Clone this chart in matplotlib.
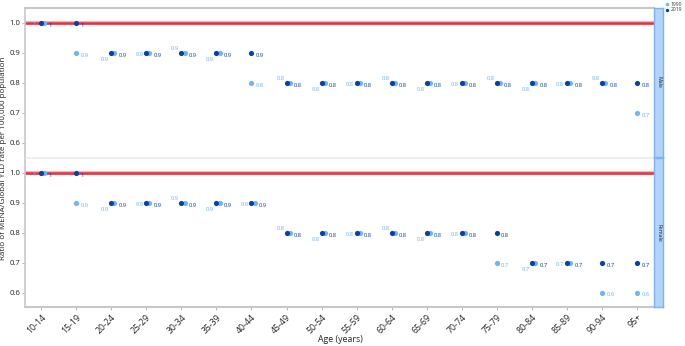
import numpy as np
import matplotlib
matplotlib.use('Agg')
import matplotlib.pyplot as plt

plt.rcParams['font.family'] = ['Open Sans', 'DejaVu Sans']

# 年龄组
ages = ['10-14', '15-19', '20-24', '25-29', '30-34', '35-39', '40-44', '45-49', '50-54',
        '55-59', '60-64', '65-69', '70-74', '75-79', '80-84', '85-89', '90-94', '95+']

# 比值数据
male_1990 = [1.0, 0.9, 0.9, 0.9, 0.9, 0.9, 0.8, 0.8, 0.8, 0.8, 0.8, 0.8, 0.8, 0.8, 0.8, 0.8, 0.8, 0.7]
male_2019 = [1.0, 1.0, 0.9, 0.9, 0.9, 0.9, 0.9, 0.8, 0.8, 0.8, 0.8, 0.8, 0.8, 0.8, 0.8, 0.8, 0.8, 0.8]
female_1990 = [1.0, 0.9, 0.9, 0.9, 0.9, 0.9, 0.9, 0.8, 0.8, 0.8, 0.8, 0.8, 0.8, 0.7, 0.7, 0.7, 0.6, 0.6]
female_2019 = [1.0, 1.0, 0.9, 0.9, 0.9, 0.9, 0.9, 0.8, 0.8, 0.8, 0.8, 0.8, 0.8, 0.8, 0.7, 0.7, 0.7, 0.7]

light = '#6eb4f7'
dark = '#0b3fa3'
red = '#e8323f'

W, H = 685, 346
fig = plt.figure(figsize=(W / 100, H / 100), dpi=100)


def fx(px):
    return px / W


def fy(px):
    return 1 - px / H


def fmt(v):
    return '1' if abs(v - 1.0) < 1e-9 else f'{v:.1f}'


# 重叠时浅色标签的偏移方式（points）
alt_offsets = [(-5, -1), (-4.5, 3), (-4.5, -5)]
lab_size = 4.2


def draw_panel(ax, v1990, v2019, show_x):
    x = np.arange(len(ages))
    ax.axhline(1.0, color='#f7b3b9', lw=3, zorder=1)
    ax.axhline(1.0, color=red, lw=1.8, zorder=2)
    for i in range(len(ages)):
        same = abs(v1990[i] - v2019[i]) < 1e-9
        dx = 0.09 if same else 0.0
        ax.scatter(x[i] + dx, v1990[i], s=14, color=light, zorder=3, linewidths=0)
        ax.scatter(x[i], v2019[i], s=14, color=dark, zorder=4, linewidths=0)
        # 深色标签放右边
        ax.annotate(fmt(v2019[i]), (x[i] + dx, v2019[i]), xytext=(3, -1.5),
                    textcoords='offset points', fontsize=lab_size, color=dark,
                    va='center', ha='left', zorder=5)
        if same:
            ox, oy = alt_offsets[i % 3]
            ax.annotate(fmt(v1990[i]), (x[i], v1990[i]), xytext=(ox, oy),
                        textcoords='offset points', fontsize=lab_size, color=light,
                        va='center', ha='center', zorder=5)
        else:
            ax.annotate(fmt(v1990[i]), (x[i], v1990[i]), xytext=(3, -1.5),
                        textcoords='offset points', fontsize=lab_size, color=light,
                        va='center', ha='left', zorder=5)
    ax.set_xlim(-0.46, len(ages) - 1 + 0.48)
    ax.set_ylim(0.553, 1.05)
    ax.set_yticks([0.6, 0.7, 0.8, 0.9, 1.0])
    ax.set_yticklabels(['0.6', '0.7', '0.8', '0.9', '1.0'])
    ax.set_xticks(x)
    if show_x:
        ax.set_xticklabels(ages, rotation=45, ha='right', rotation_mode='anchor')
    else:
        ax.set_xticklabels([])
        ax.tick_params(axis='x', length=0)
    ax.tick_params(axis='x', labelsize=6.3, colors='#222222', length=2, width=0.6, pad=2)
    ax.tick_params(axis='y', labelsize=5.6, colors='#222222', length=2, width=0.6, pad=1.5)
    ax.tick_params(axis='both', color='#aaaaaa')
    ax.spines['right'].set_visible(False)
    ax.spines['left'].set_color('#c8c8c8')
    ax.spines['left'].set_linewidth(1.2)
    ax.spines['top'].set_color('#efefef')
    ax.spines['bottom'].set_color('#efefef')


ax_top = fig.add_axes([fx(25), fy(157), fx(654 - 25), (157 - 8) / H])
ax_bot = fig.add_axes([fx(25), fy(307), fx(654 - 25), (307 - 158) / H])
draw_panel(ax_top, male_1990, male_2019, False)
draw_panel(ax_bot, female_1990, female_2019, True)
ax_top.spines['top'].set_color('#c8c8c8')
ax_top.spines['top'].set_linewidth(1.5)
ax_bot.spines['bottom'].set_color('#c8c8c8')
ax_bot.spines['bottom'].set_linewidth(1.5)

# 右侧分面标签
for y0, y1, lab in [(8, 157, 'Male'), (158, 307, 'Female')]:
    sax = fig.add_axes([fx(654), fy(y1), fx(9), (y1 - y0) / H])
    sax.set_facecolor('#b3d3fb')
    for s in sax.spines.values():
        s.set_color('#7fb2f2')
        s.set_linewidth(1.0)
    sax.set_xticks([])
    sax.set_yticks([])
    sax.text(0.5, 0.5, lab, rotation=-90, ha='center', va='center', fontsize=3.8,
             color='#222222', transform=sax.transAxes)

fig.text(fx(3.5), fy(158), 'Ratio of MENA/Global YLD rate per 100,000 population',
         rotation=90, ha='center', va='center', fontsize=5.8, color='#222222')
fig.text(fx(340), fy(340), 'Age (years)', ha='center', va='center', fontsize=6.3,
         color='#222222')

# 图例
leg = fig.add_axes([fx(664), fy(13), fx(21), 12 / H])
leg.axis('off')
leg.set_xlim(0, 21)
leg.set_ylim(13, 0)
leg.scatter([3], [3.5], s=6, color=light, linewidths=0)
leg.scatter([3], [9.5], s=6, color=dark, linewidths=0)
leg.text(6.5, 3.5, '1990', fontsize=3.6, va='center', ha='left', color='#333333')
leg.text(6.5, 9.5, '2019', fontsize=3.6, va='center', ha='left', color='#333333')

fig.savefig('out.png', dpi=100)
